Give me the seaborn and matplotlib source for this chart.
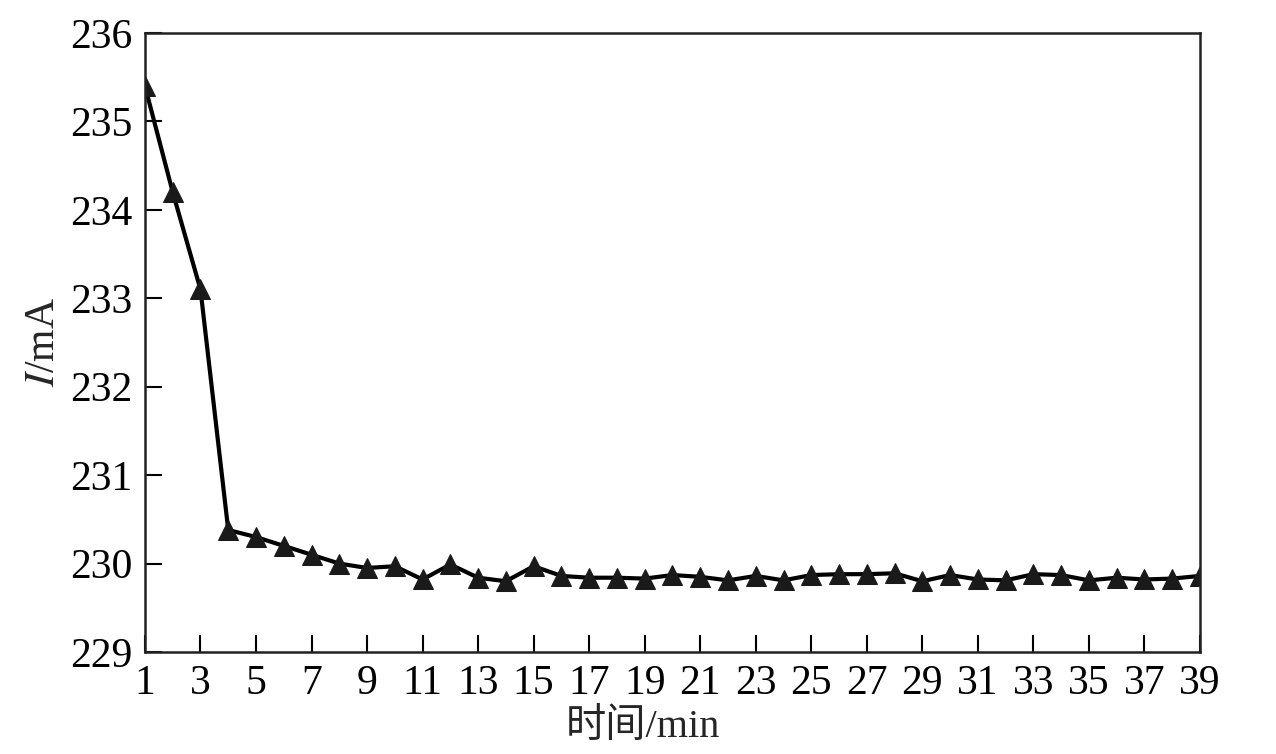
import numpy as np
import pandas as pd
import matplotlib
matplotlib.use("Agg")
import matplotlib.pyplot as plt
import seaborn as sns

# time (min) and current (mA)
minutes = list(range(1, 40))
current = [235.4, 234.2, 233.1, 230.38, 230.3, 230.2, 230.1, 230.0, 229.95, 229.97,
           229.82, 229.99, 229.84, 229.8, 229.97, 229.86, 229.84, 229.84, 229.83, 229.87,
           229.85, 229.81, 229.86, 229.81, 229.87, 229.88, 229.88, 229.89, 229.8, 229.87,
           229.82, 229.81, 229.88, 229.87, 229.81, 229.84, 229.82, 229.83, 229.86]
xticks = list(range(1, 40, 2))
yticks = list(range(229, 237))

df = pd.DataFrame({"t": minutes, "I": current})

sns.set_style("ticks")
plt.rcParams['font.family'] = ['Liberation Serif', 'Noto Sans CJK SC']
plt.rcParams['mathtext.fontset'] = 'stix'

fig = plt.figure(figsize=(12.76, 7.54), dpi=100)
ax = fig.add_axes([0.1136, 0.1353, 0.8268, 0.8209])

sns.lineplot(data=df, x="t", y="I", ax=ax, color="black", linewidth=3,
             marker="^", markersize=15, markeredgecolor="#1a1a1a",
             markerfacecolor="#1a1a1a")

ax.set_xlim(1, 39)
ax.set_ylim(229, 236)
ax.set_xticks(xticks)
ax.set_yticks(yticks)
ax.tick_params(direction="in", length=12, width=1.5, labelsize=30, colors="black",
               top=False, right=False)
ax.tick_params(axis="x", pad=9)
ax.tick_params(axis="y", pad=9)
for s in ax.spines.values():
    s.set_linewidth(1.8)
    s.set_color("#222222")

ax.set_xlabel("时间/min", fontsize=29)
ax.xaxis.set_label_coords(0.472, -0.092)
ax.set_ylabel("$I$/mA", fontsize=30)
ax.yaxis.set_label_coords(-0.078, 0.5)

fig.savefig("out.png", dpi=100)
